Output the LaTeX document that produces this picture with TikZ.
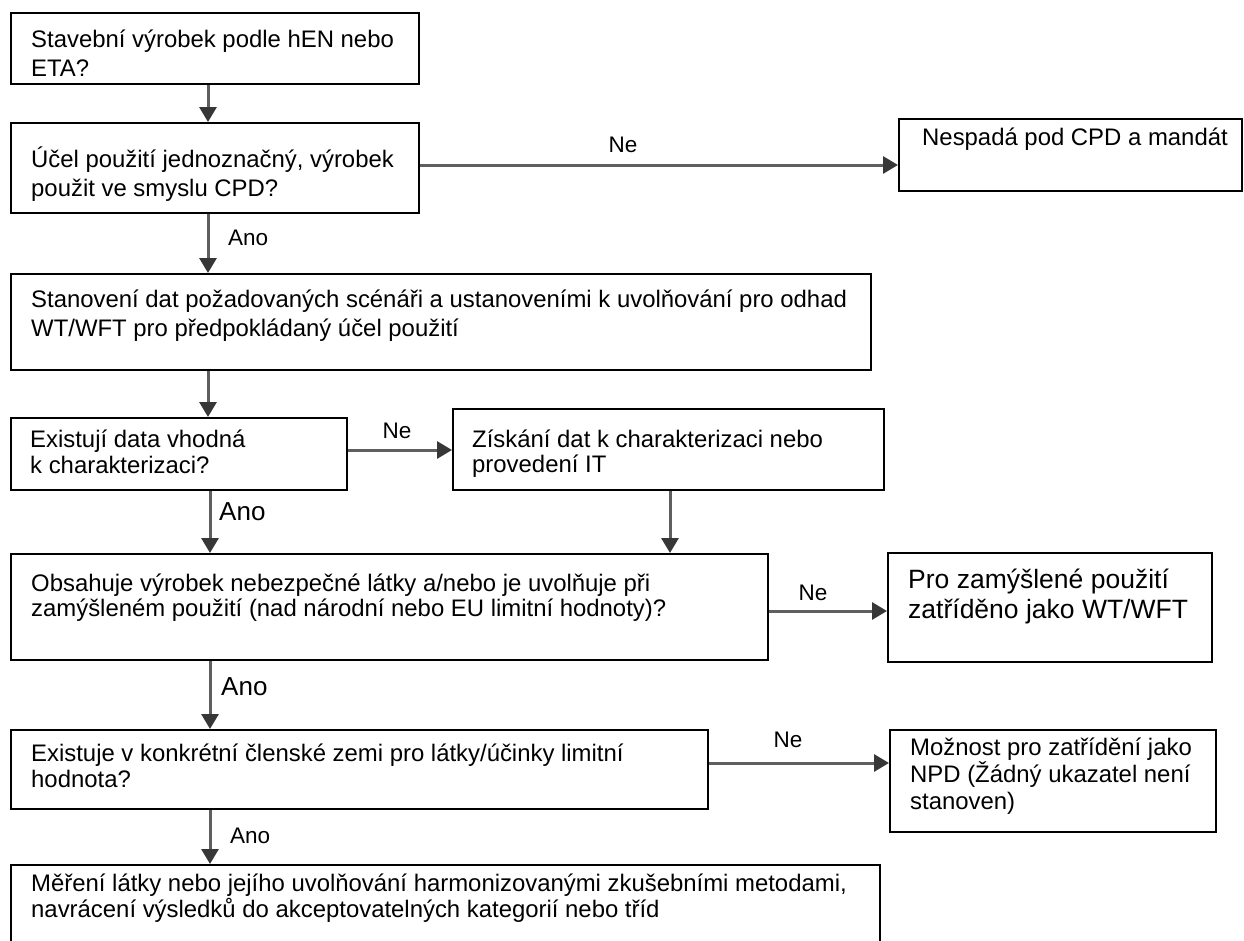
\documentclass[tikz,border=0pt]{standalone}
\usepackage{fontspec}
\setmainfont{Liberation Sans}
\usetikzlibrary{arrows.meta}
\definecolor{arrline}{RGB}{95,95,95}
\definecolor{arrhead}{RGB}{55,55,55}
\newcommand{\ml}[2]{\vtop{\baselineskip=#1pt\lineskiplimit=-1000pt\lineskip=0pt #2}}
\begin{document}
\begin{tikzpicture}[x=1pt,y=-1pt,
 box/.style={draw=black,line width=2pt,fill=white,rectangle,inner sep=0pt,anchor=north west},
 txt/.style={inner sep=0pt,anchor=base west,font=\fontsize{23.9pt}{28pt}\selectfont},
 bigtxt/.style={inner sep=0pt,anchor=base west,font=\fontsize{26.5pt}{30pt}\selectfont},
 lbl/.style={inner sep=0pt,anchor=base,font=\fontsize{22.5pt}{26pt}\selectfont},
 ano/.style={inner sep=0pt,anchor=base west,font=\fontsize{22.5pt}{26pt}\selectfont},
 anobig/.style={inner sep=0pt,anchor=base west,font=\fontsize{26pt}{30pt}\selectfont},
 arr/.style={draw=arrline,line width=3pt,-{Triangle[length=15pt,width=17pt,color=arrhead]}}]
\useasboundingbox (0,0) rectangle (1244,940);
\fill[white] (0,0) rectangle (1244,940);
% boxes
\node[box,minimum width=408pt,minimum height=71pt] (b1) at (10,12) {};
\node[box,minimum width=408pt,minimum height=90pt] (b2) at (10,122) {};
\node[box,minimum width=343pt,minimum height=72pt] (b3) at (898,118) {};
\node[box,minimum width=860pt,minimum height=96pt] (b4) at (10,273) {};
\node[box,minimum width=336pt,minimum height=72pt] (b5) at (10,417) {};
\node[box,minimum width=431pt,minimum height=81pt] (b6) at (452,408) {};
\node[box,minimum width=757pt,minimum height=106pt] (b7) at (10,553) {};
\node[box,minimum width=324pt,minimum height=109pt] (b8) at (887,552) {};
\node[box,minimum width=697pt,minimum height=79pt] (b9) at (10,729) {};
\node[box,minimum width=326pt,minimum height=102pt] (b10) at (889,729) {};
\node[box,minimum width=869pt,minimum height=90pt] (b11) at (10,864) {};
% texts
\node[txt] (t1) at (31,47) {\ml{29}{\hbox{Stavební výrobek podle hEN nebo}\hbox{ETA?}}};
\node[txt] (t2) at (31,167) {\ml{29}{\hbox{Účel použití jednoznačný, výrobek}\hbox{použit ve smyslu CPD?}}};
\node[txt] (t3) at (922,145) {Nespadá pod CPD a mandát};
\node[txt] (t4) at (31,307) {\ml{29}{\hbox{Stanovení dat požadovaných scénáři a ustanoveními k uvolňování pro odhad}\hbox{WT/WFT pro předpokládaný účel použití}}};
\node[txt] (t5) at (30,447) {\ml{26}{\hbox{Existují data vhodná}\hbox{k charakterizaci?}}};
\node[txt] (t6) at (472,447) {\ml{25}{\hbox{Získání dat k charakterizaci nebo}\hbox{provedení IT}}};
\node[txt] (t7) at (31,591) {\ml{25}{\hbox{Obsahuje výrobek nebezpečné látky a/nebo je uvolňuje při}\hbox{zamýšleném použití (nad národní nebo EU limitní hodnoty)?}}};
\node[bigtxt] (t8) at (908,588) {\ml{30}{\hbox{Pro zamýšlené použití}\hbox{zatříděno jako WT/WFT}}};
\node[txt] (t9) at (31,761) {\ml{26}{\hbox{Existuje v konkrétní členské zemi pro látky/účinky limitní}\hbox{hodnota?}}};
\node[txt] (t10) at (910,755) {\ml{27}{\hbox{Možnost pro zatřídění jako}\hbox{NPD (Žádný ukazatel není}\hbox{stanoven)}}};
\node[txt] (t11) at (31,891) {\ml{26}{\hbox{Měření látky nebo jejího uvolňování harmonizovanými zkušebními metodami,}\hbox{navrácení výsledků do akceptovatelných kategorií nebo tříd}}};
% labels
\node[lbl] (ne1) at (623,152) {Ne};
\node[lbl] (ne2) at (397,438) {Ne};
\node[lbl] (ne3) at (813,600) {Ne};
\node[lbl] (ne4) at (788,747) {Ne};
\node[ano] (ano1) at (228,245) {Ano};
\node[anobig] (ano2) at (219,520) {Ano};
\node[anobig] (ano3) at (221,695) {Ano};
\node[ano] (ano4) at (230,843) {Ano};
% connectors
\coordinate (cA) at (208,0);
\coordinate (cB) at (210,0);
\coordinate (cC) at (670,0);
\coordinate (r1) at (0,165);
\coordinate (r5) at (0,450);
\coordinate (r8) at (0,611);
\coordinate (r10) at (0,763);
\draw[arr] (b1.south -| cA) -- (b2.north -| cA);
\draw[arr] (b2.east |- r1) -- (b3.west |- r1);
\draw[arr] (b2.south -| cA) -- (b4.north -| cA);
\draw[arr] (b4.south -| cA) -- (b5.north -| cA);
\draw[arr] (b5.east |- r5) -- (b6.west |- r5);
\draw[arr] (b5.south -| cB) -- (b7.north -| cB);
\draw[arr] (b6.south -| cC) -- (b7.north -| cC);
\draw[arr] (b7.east |- r8) -- (b8.west |- r8);
\draw[arr] (b7.south -| cB) -- (b9.north -| cB);
\draw[arr] (b9.east |- r10) -- (b10.west |- r10);
\draw[arr] (b9.south -| cB) -- (b11.north -| cB);
\end{tikzpicture}
\end{document}
